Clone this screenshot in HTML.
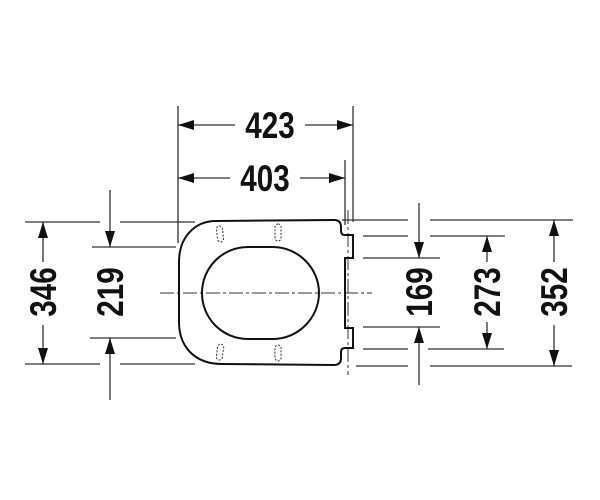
<!DOCTYPE html>
<html><head><style>
html,body{margin:0;padding:0;background:#fff;}
svg{display:block;}
text{font-family:"Liberation Sans",sans-serif;font-weight:bold;font-size:37px;fill:#111;}
</style></head><body>
<svg width="600" height="500" viewBox="0 0 600 500" xmlns="http://www.w3.org/2000/svg">
<defs>
<marker id="a" viewBox="0 0 16 10" refX="16" refY="5" markerWidth="16" markerHeight="10" markerUnits="userSpaceOnUse" orient="auto-start-reverse">
<path d="M0,0 L16,5 L0,10 Z" fill="#111"/>
</marker>
</defs>
<g stroke="#333" stroke-width="1.3" fill="none">
<line x1="178" y1="106" x2="178" y2="243"/>
<line x1="353" y1="106" x2="353" y2="222"/>
<line x1="345" y1="160" x2="345" y2="225"/>
<line x1="178" y1="125" x2="235" y2="125" marker-start="url(#a)"/>
<line x1="305" y1="125" x2="353" y2="125" marker-end="url(#a)"/>
<line x1="178" y1="178" x2="230" y2="178" marker-start="url(#a)"/>
<line x1="300" y1="178" x2="345" y2="178" marker-end="url(#a)"/>
<line x1="25" y1="222" x2="100" y2="222"/>
<line x1="120" y1="222" x2="195" y2="222"/>
<line x1="92" y1="247" x2="176" y2="247"/>
<line x1="90" y1="338" x2="176" y2="338"/>
<line x1="25" y1="364" x2="100" y2="364"/>
<line x1="120" y1="364" x2="195" y2="364"/>
<line x1="43" y1="262" x2="43" y2="222" marker-end="url(#a)"/>
<line x1="43" y1="325" x2="43" y2="364" marker-end="url(#a)"/>
<line x1="110" y1="190" x2="110" y2="247" marker-end="url(#a)"/>
<line x1="110" y1="400" x2="110" y2="338" marker-end="url(#a)"/>
<line x1="342" y1="220" x2="408" y2="220"/>
<line x1="430" y1="220" x2="573" y2="220"/>
<line x1="363" y1="236" x2="408" y2="236"/>
<line x1="430" y1="236" x2="505" y2="236"/>
<line x1="363" y1="258" x2="440" y2="258"/>
<line x1="363" y1="327" x2="440" y2="327"/>
<line x1="363" y1="349" x2="408" y2="349"/>
<line x1="428" y1="349" x2="504" y2="349"/>
<line x1="356" y1="366" x2="408" y2="366"/>
<line x1="430" y1="366" x2="572" y2="366"/>
<line x1="419" y1="203" x2="419" y2="258" marker-end="url(#a)"/>
<line x1="419" y1="385" x2="419" y2="327" marker-end="url(#a)"/>
<line x1="487" y1="262" x2="487" y2="236" marker-end="url(#a)"/>
<line x1="487" y1="322" x2="487" y2="349" marker-end="url(#a)"/>
<line x1="554" y1="262" x2="554" y2="220" marker-end="url(#a)"/>
<line x1="554" y1="325" x2="554" y2="366" marker-end="url(#a)"/>
<line x1="160" y1="293" x2="372" y2="293" stroke-dasharray="14,3,3,3" stroke-width="1"/>
<line x1="348" y1="210" x2="348" y2="375" stroke-dasharray="14,3,3,3" stroke-width="1"/>
</g>
<g stroke="#111" stroke-width="2" fill="none">
<path d="M216,221 L334,220 Q341,220 341,227 L341,231 Q341,235 345,235 L353,235 L353,258 L345,258 L345,328 L353,328 L353,348 L345,348 Q341,348 341,352 L341,358 Q341,365 334,365 L222,364 C194,364 179,346 179,322 L179,262 C179,238 194,221 216,221 Z"/>
<path d="M248,247 L273,247 C298,247 319,268 319,293 C319,318 298,339 273,339 L248,339 C222,339 202,318 202,293 C202,268 222,247 248,247 Z"/>
</g>
<g stroke="#333" stroke-width="1" fill="none" stroke-dasharray="2,1.5">
<rect x="217" y="226" width="6" height="16" rx="3" transform="rotate(-6 220 234)"/>
<rect x="275" y="224" width="6" height="17" rx="3"/>
<rect x="217" y="344" width="6" height="16" rx="3" transform="rotate(8 220 352)"/>
<rect x="275" y="345" width="6" height="16" rx="3"/>
</g>
<text x="270" y="138" text-anchor="middle" transform="translate(270 0) scale(0.8 1) translate(-270 0)">423</text>
<text x="265" y="191" text-anchor="middle" transform="translate(265 0) scale(0.8 1) translate(-265 0)">403</text>
<text text-anchor="middle" transform="translate(56 292) rotate(-90) scale(0.8 1)">346</text>
<text text-anchor="middle" transform="translate(123 292) rotate(-90) scale(0.8 1)">219</text>
<text text-anchor="middle" transform="translate(432 292) rotate(-90) scale(0.8 1)">169</text>
<text text-anchor="middle" transform="translate(500 292) rotate(-90) scale(0.8 1)">273</text>
<text text-anchor="middle" transform="translate(567 292) rotate(-90) scale(0.8 1)">352</text>
</svg>
</body></html>
